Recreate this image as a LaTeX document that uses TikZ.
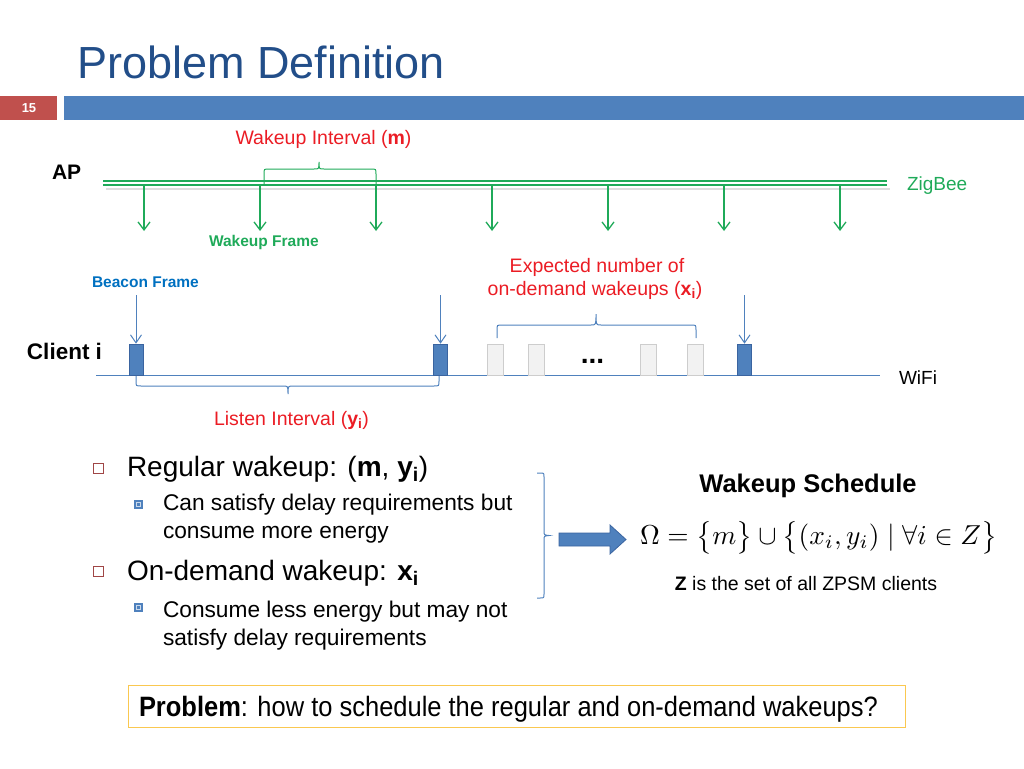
\documentclass[tikz,border=0pt]{standalone}
\usepackage{fontspec}
\setmainfont{Liberation Sans}
\usetikzlibrary{arrows.meta}
\definecolor{titleblue}{RGB}{34,78,137}
\definecolor{redbox}{RGB}{192,80,77}
\definecolor{barblue}{RGB}{79,129,189}
\definecolor{darkbarblue}{RGB}{58,100,160}
\definecolor{zgreen}{RGB}{31,170,89}
\definecolor{txtred}{RGB}{235,28,36}
\definecolor{beaconblue}{RGB}{0,112,192}
\definecolor{gold}{RGB}{250,200,80}
\definecolor{bulletred}{RGB}{160,70,70}
\definecolor{lightbox}{RGB}{242,242,242}
\definecolor{lightboxline}{RGB}{205,205,205}
\newcommand{\fs}[1]{\fontsize{#1}{#1}\selectfont}
\begin{document}
\begin{tikzpicture}[x=1pt,y=-1pt,
  txt/.style={inner sep=0pt, outer sep=0pt, anchor=base west},
  ctxt/.style={inner sep=0pt, outer sep=0pt, anchor=base},
  garrow/.style={zgreen, line width=1.3pt, -{Straight Barb[length=8pt,width=12pt,line width=1.3pt]}},
  barrow/.style={barblue, line width=1pt, -{Straight Barb[length=8pt,width=11pt,line width=1pt]}},
  gline/.style={zgreen, line width=1.7pt},
  gbrace/.style={zgreen, line width=1pt},
  bbrace/.style={barblue, line width=1pt},
  beacon/.style={draw=darkbarblue, fill=barblue, line width=0.6pt, minimum width=14pt, minimum height=31pt, inner sep=0pt},
  ondemand/.style={draw=lightboxline, fill=lightbox, line width=0.6pt, minimum width=16pt, minimum height=31pt, inner sep=0pt},
  mainbullet/.style={draw=bulletred, line width=0.8pt},
  ]
\useasboundingbox (0,0) rectangle (1024,768);

% title and header bar
\node[txt, text=titleblue] (title) at (77,78) {\fs{45}Problem Definition};
\fill[redbox] (0,96) rectangle (57,120);
\node[inner sep=0pt, text=white] (num) at (29,108) {\fs{13}\bfseries 15};
\fill[barblue] (64,96) rectangle (1024,120);

% AP / ZigBee line
\node[txt] (ap) at (52,179) {\fs{21}\bfseries AP};
\draw[gray!45, line width=2.5pt, opacity=0.6] (106,189) -- (890,189);
\draw[gline] (103,181) -- (887,181);
\draw[gline] (103,185.2) -- (887,185.2);
\node[txt, text=zgreen] (zigbee) at (907,190) {\fs{19}ZigBee};
\foreach \i/\x in {1/144,2/260,3/376,4/492,5/608,6/724,7/840}{
  \coordinate (ws\i) at (\x,186);
  \coordinate (we\i) at (\x,231);
  \draw[garrow] (ws\i) -- (we\i);
}
% wakeup interval brace
\draw[gbrace] (264,184) -- (264,174) .. controls (264,169) .. (269,169) -- (314,169)
  .. controls (319,169) .. (319,162) .. controls (319,169) .. (324,169) -- (371,169)
  .. controls (376,169) .. (376,174) -- (376,184);
\node[ctxt, text=txtred] (wi) at (323.5,144) {\fs{19.5}Wakeup Interval (\textbf{m})};
\node[txt, text=zgreen] (wf) at (209,246) {\fs{15.5}\bfseries Wakeup Frame};
\node[txt, text=beaconblue] (bf) at (92,287) {\fs{15.5}\bfseries Beacon Frame};

% client line
\node[txt] (client) at (27,359) {\fs{22.5}\bfseries Client i};
\draw[barblue, line width=1pt] (96,375.5) -- (880,375.5);
\node[txt] (wifi) at (899,384) {\fs{19}WiFi};
\node[beacon] (b1) at (136,359.5) {};
\node[beacon] (b2) at (440.5,359.5) {};
\node[beacon] (b3) at (744.5,359.5) {};
\node[ondemand] (d1) at (495,359.5) {};
\node[ondemand] (d2) at (536,359.5) {};
\node[ondemand] (d3) at (648,359.5) {};
\node[ondemand] (d4) at (695.5,359.5) {};
\node[ctxt] (dots) at (592.5,363) {\fs{28}\bfseries ...};
\coordinate (ba1) at (136,295);
\coordinate (ba2) at (440.5,295);
\coordinate (ba3) at (744.5,295);
\draw[barrow] (ba1) -- (b1.north);
\draw[barrow] (ba2) -- (b2.north);
\draw[barrow] (ba3) -- (b3.north);

% expected number brace
\draw[bbrace] (497,338) -- (497,330) .. controls (497,325) .. (502,325) -- (591,325)
  .. controls (596,325) .. (596,314) .. controls (596,325) .. (601,325) -- (691,325)
  .. controls (696,325) .. (696,330) -- (696,338);
\node[ctxt, text=txtred] (exp1) at (597,272) {\fs{19.5}Expected number of};
\node[ctxt, text=txtred] (exp2) at (595,295) {\fs{19.5}on-demand wakeups (\textbf{x}\textsubscript{\textbf{i}})};

% listen interval brace
\draw[bbrace] (136,376) -- (136,381) .. controls (136,386) .. (141,386) -- (283,386)
  .. controls (288,386) .. (288,394) .. controls (288,386) .. (293,386) -- (434,386)
  .. controls (439,386) .. (439,381) -- (439,376);
\node[ctxt, text=txtred] (li) at (291.5,425) {\fs{19.5}Listen Interval (\textbf{y}\textsubscript{\textbf{i}})};

% bullets
\draw[mainbullet] (93.5,463.5) rectangle (103.5,473.5);
\node[txt] (r1) at (127,476) {\fs{28}Regular wakeup: (\textbf{m}, \textbf{y}\textsubscript{\textbf{i}})};
\fill[barblue] (134,500) rectangle (143,509);
\draw[white!70!barblue, line width=0.8pt] (136.5,502.5) rectangle (140.5,506.5);
\node[txt] (r2) at (163,510) {\fs{22.7}Can satisfy delay requirements but};
\node[txt] (r3) at (163,538) {\fs{22.7}consume more energy};
\draw[mainbullet] (93.5,566.5) rectangle (103.5,576.5);
\node[txt] (o1) at (127,580) {\fs{28}On-demand wakeup: \textbf{x}\textsubscript{\textbf{i}}};
\fill[barblue] (134,603) rectangle (143,612);
\draw[white!70!barblue, line width=0.8pt] (136.5,605.5) rectangle (140.5,609.5);
\node[txt] (o2) at (163,617) {\fs{22.7}Consume less energy but may not};
\node[txt] (o3) at (163,645) {\fs{22.7}satisfy delay requirements};

% right brace and arrow
\draw[bbrace] (537,473) -- (540,473) .. controls (544,473) .. (544,477) -- (544,531)
  .. controls (544,535) .. (549,535.5) .. controls (544,536) .. (544,540) -- (544,594)
  .. controls (544,598) .. (540,598) -- (537,598);
\draw[fill=barblue, draw=darkbarblue, line width=0.8pt] (559,533) -- (610,533) -- (610,525)
  -- (626,539.5) -- (610,554) -- (610,546) -- (559,546) -- cycle;
\node[ctxt] (ws) at (808,492) {\fs{25.5}\bfseries Wakeup Schedule};
\node[inner sep=0pt] (formula) at (818.5,537.5) {\resizebox{357pt}{!}{\fs{10}$\Omega = \bigl\{m\bigr\} \cup \bigl\{(x_i, y_i) \mid \forall i \in Z\bigr\}$}};
\node[ctxt] (zdef) at (806,590) {\fs{19.5}\textbf{Z} is the set of all ZPSM clients};

% problem box
\draw[gold, line width=1pt] (128,685) rectangle (905,727);
\node[txt] (prob) at (139,716) {\scalebox{0.91}[1]{\fs{28}\textbf{Problem}: how to schedule the regular and on-demand wakeups?}};
\end{tikzpicture}
\end{document}
